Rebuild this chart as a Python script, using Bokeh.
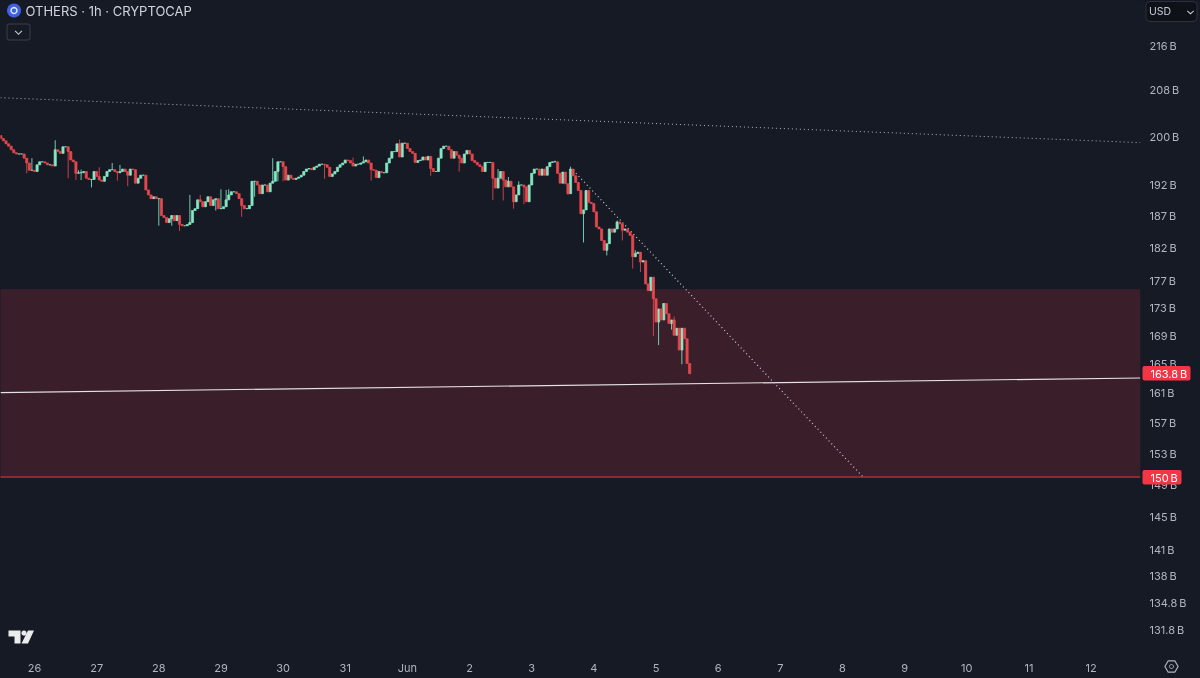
import math
from bokeh.plotting import figure
from bokeh.layouts import column
from bokeh.models import ColumnDataSource, FixedTicker, Range1d
from bokeh.core.properties import value
from bokeh.embed import file_html
from bokeh.resources import INLINE

# hourly closes in billions USD
closes_a = [199.7,199.3,198.8,198.4,197.8,197.3,197.1,197.1,197.1,196.4,195.6,194.4,194.4,194.2,195.3,195.8,195.8,195.6,195.3,195.3,195.1,
 197.8,197.5,197.2,198.3,198.3,197.5,196.1,195.8,193.9,194.0,194.0,194.2,193.1,192.9,192.9,194.2,193.4,192.8,192.6,193.4,194.2,
 194.5,194.5,194.2,194.0,194.2,194.6,194.2,193.6,194.6,194.5,192.3,193.1,193.6,193.6,191.2,190.4,189.8,190.1,189.8,189.8,
 187.1,186.8,186.0,186.6,187.1,186.3,187.1,185.7,185.5,185.5,185.7,186.0,187.9,188.2,189.6,189.3,188.5,189.3,190.1,188.7,
 189.6,189.8,188.2,188.2,188.5,189.6,190.4,190.9,190.9,190.6,189.8,188.7,188.2,188.2,188.7,192.6,192.6,192.0,190.6,192.0,
 192.0,190.9,192.3,192.6,194.2,195.8,195.8,195.0,192.8,193.6,193.1,192.9,193.1,193.3,193.6,194.2]
closes_b = [194.6,194.7,194.5,194.9,195.1,195.4,195.4,195.3,194.9,193.4,193.8,194.2,194.9,195.3,195.6,196.1,196.0,195.6,195.1,195.4,
 195.4,195.6,195.8,196.1,195.6,194.5,194.4,193.2,194.2,194.0,194.0,195.6,196.4,197.5,197.5,198.8,196.6,198.9,198.9,198.0,
 197.5,197.2,195.7,196.0,196.1,196.6,196.1,196.7,194.7,194.2,194.2,196.4,198.0,198.4,198.4,197.8,196.4,197.5,196.9,196.4,
 195.6,197.1,197.7,197.1,196.0,195.7,195.3,195.0,194.2,195.7,195.7,195.7,193.1,191.5,193.1,194.2,192.8,191.7,192.6,191.7,
 189.3,190.4,192.0,192.0,191.7,189.3,192.0,193.9,194.6,194.6,193.6,194.6,193.6,195.0,195.7,195.8,195.8,193.9,192.3]
closes_c = [194.1,192.2,190.6,194.6,193.5,192.4,191.1,187.4,188.0,191.1,189.2,189.0,187.7,185.3,185.0,183.2,181.7,182.7,185.0,184.5,
 185.0,186.1,185.8,184.8,185.0,184.5,184.0,180.7,181.2,181.4,179.9,180.1,176.6,175.6,177.6,174.4,171.0,172.9,171.3,173.7,
 172.2,170.8,171.3,169.1,170.1,167.0,170.1,168.6,165.1,163.7]
closes = closes_a + closes_b + closes_c
first_open = 200.2
last_hour = 253  # hours after 26 May 00:00

high_hours = [-1,8,17,18,25,30,33,41,60,64,72,74,75,92,123,127,141,179,183,187,201,207,225,232,247]
high_vals = [196.4,199.4,194.4,194.5,194.9,195.6,195.3,190.6,190.4,190.4,191.3,191.2,191.3,196.4,196.5,196.7,199.5,194.6,193.3,192.6,196.0,195.0,186.3,181.7,171.8]
low_hours = [-3,13,16,18,22,32,36,48,53,56,59,65,70,80,85,94,96,112,130,153,164,177,181,185,189,206,212,221,227,231,234,239,241,246,250]
low_vals = [193.9,193.1,192.8,192.8,191.6,192.7,191.8,185.5,185.5,184.7,187.9,188.7,187.9,186.9,190.1,192.6,192.6,193.0,192.7,193.5,194.2,189.6,189.5,188.2,188.9,190.4,
 182.9,180.9,183.2,178.9,178.4,169.0,167.7,169.9,165.0]

y_ticks = [216,208,200,192,187,182,177,173,169,165,161,157,153,149,145,141,138,134.8,131.8]
y_labels = ["216\u202fB","208\u202fB","200\u202fB","192\u202fB","187\u202fB","182\u202fB","177\u202fB","173\u202fB","169\u202fB","165\u202fB","161\u202fB","157\u202fB","153\u202fB","149\u202fB","145\u202fB","141\u202fB","138\u202fB","134.8\u202fB","131.8\u202fB"]
x_ticks = [0,24,48,72,96,120,144,168,192,216,240,264,288,312,336,360,384,408]
x_labels = ["26","27","28","29","30","31","Jun","2","3","4","5","6","7","8","9","10","11","12"]

zone_top, zone_bottom = 175.8, 150.0
support_start, support_end = 161.1, 163.1
upper_start, upper_end = 206.7, 199.0
fall_start_hour, fall_start, fall_end_hour, fall_end = 208, 194.4, 320, 150.0
left_hour, right_hour = -13.13, 427.1

BG = "#161a25"; UP = "#84e8c4"; DOWN = "#e5484d"; AXIS = "#b2b5be"; RED = "#f23645"; ZONE = "#3a1f2b"
W, H, FW, FH = 1200, 678, 1140, 655

n = len(closes)
hours = [last_hour - n + 1 + i for i in range(n)]
opens = [first_open] + closes[:-1]
highs = [max(o, c) for o, c in zip(opens, closes)]
lows = [min(o, c) for o, c in zip(opens, closes)]
idx = {h: i for i, h in enumerate(hours)}
for h, v in zip(high_hours, high_vals):
    if h in idx:
        highs[idx[h]] = max(highs[idx[h]], v)
for h, v in zip(low_hours, low_vals):
    if h in idx:
        lows[idx[h]] = min(lows[idx[h]], v)

def pick(cond):
    keep = [i for i in range(n) if cond(opens[i], closes[i])]
    return ColumnDataSource(dict(
        x=[hours[i] for i in keep], o=[opens[i] for i in keep], c=[closes[i] for i in keep],
        h=[highs[i] for i in keep], l=[lows[i] for i in keep]))

p = figure(width=W, height=H, frame_width=FW, frame_height=FH, output_backend="svg", toolbar_location=None,
           y_axis_type="log", y_axis_location="right",
           x_range=Range1d(left_hour, right_hour), y_range=Range1d(129.0, 224.4),
           background_fill_color=BG, border_fill_color=BG, outline_line_color=None,
           min_border_left=0, min_border_top=0, min_border_right=60, min_border_bottom=23)
p.styles = {"position": "fixed", "left": "0", "top": "0", "background-color": BG, "box-shadow": "0 0 0 8px " + BG}
p.grid.visible = False

for ax, ticks, labels in ((p.yaxis[0], y_ticks, y_labels), (p.xaxis[0], x_ticks, x_labels)):
    ax.ticker = FixedTicker(ticks=ticks)
    ax.major_label_overrides = dict(zip(ticks, labels))
    ax.axis_line_color = None
    ax.major_tick_line_color = None
    ax.minor_tick_line_color = None
    ax.major_tick_in = 0
    ax.major_tick_out = 0
    ax.minor_tick_in = 0
    ax.minor_tick_out = 0
    ax.major_label_text_color = AXIS
    ax.major_label_text_font = "Inter"
    ax.major_label_text_font_size = "11px"
p.yaxis[0].major_label_standoff = 9
p.xaxis[0].major_label_standoff = 5

p.quad(left=[left_hour - 5], right=[right_hour + 5], top=[zone_top], bottom=[zone_bottom], fill_color=ZONE, line_color=None)
p.line([left_hour - 5, right_hour + 5], [zone_bottom, zone_bottom], line_color=RED, line_width=1)
p.line([left_hour, right_hour], [support_start, support_end], line_color="#e4e2e4", line_width=1.1)
p.line([left_hour, right_hour], [upper_start, upper_end], line_color="#b4b8c2", line_width=1, line_dash="1 3")
p.line([fall_start_hour, fall_end_hour], [fall_start, fall_end], line_color="#c8ccd4", line_width=1.2, line_dash="1 3")

for cond, col in ((lambda o, c: c >= o, UP), (lambda o, c: c < o, DOWN)):
    src = pick(cond)
    p.segment("x", "l", "x", "h", source=src, line_color=col, line_width=1, line_alpha=0.85)
    p.vbar(x="x", width=0.85, bottom="o", top="c", source=src, fill_color=col, line_color=col, line_width=0.7)

# transparent sheet over the whole page for the interface furniture, in page pixels
q = figure(width=W, height=H, frame_width=W, frame_height=H, output_backend="svg", toolbar_location=None,
           x_axis_type=None, y_axis_type=None,
           x_range=Range1d(0, W), y_range=Range1d(H, 0),
           background_fill_alpha=0, border_fill_alpha=0, outline_line_color=None,
           min_border_left=0, min_border_top=0, min_border_right=0, min_border_bottom=0)
q.styles = {"position": "fixed", "left": "0", "top": "0"}
q.grid.visible = False

def box(l, r, t, b, fill, line=None, radius=0):
    q.quad(left=[l], right=[r], top=[t], bottom=[b], fill_color=fill, line_color=line, line_width=1, border_radius=radius)

def poly(pts, fill=None, line=None, w=1):
    q.patch([a for a, _ in pts], [b for _, b in pts], fill_color=fill, fill_alpha=1 if fill else 0,
            line_color=line, line_width=w)

def label(px, py, text, color, size):
    q.text([px], [py], text=[text], text_color=color, text_font=value("Inter"), text_font_size=size, text_baseline="middle")

def ring(cx, cy, r, count):
    return [(cx + r * math.cos(2 * math.pi * i / count), cy + r * math.sin(2 * math.pi * i / count)) for i in range(count)]

# strips over the frame's hairline
box(1140, 1142, 0, H, BG)
box(0, W, 0, 1, BG); box(0, W, 654.5, 656, BG)

# header
poly(ring(13.5, 10, 7, 24), "#3e62e6")
poly(ring(13.5, 10, 3, 12), None, "#dfe6ff", 1.4)
label(25, 10.5, "OTHERS · 1h · CRYPTOCAP", "#d1d4dc", "13px")
box(6.5, 29.5, 23.5, 39.5, BG, "#3a3e4a", 2)
poly([(15, 30), (18, 33), (21, 30), (21.8, 30.8), (18, 34.6), (14.2, 30.8)], "#c8cbd3")

# currency selector
box(1145.5, 1196.5, 1, 21, "#0e1118", "#2e323d", 4)
label(1148.5, 11, "USD", "#c8cbd3", "10.5px")
poly([(1187, 10), (1190, 12.5), (1193, 10), (1193.6, 10.8), (1190, 14), (1186.4, 10.8)], "#c8cbd3")

# price tags
box(1142, 1190, 365.5, 380, RED, None, 2)
label(1150, 373, "163.8\u202fB", "#ffffff", "11px")
box(1142, 1181, 469.5, 484, RED, None, 2)
label(1150, 477, "150\u202fB", "#ffffff", "11px")

# attribution mark and settings icon
poly([(8, 630), (20, 630), (20, 643), (14, 643), (14, 636), (8, 636)], "#ececec")
poly(ring(23.5, 632.6, 2.6, 12), "#ececec")
poly([(27.5, 630), (33.5, 630), (27.5, 643), (21, 643)], "#ececec")
poly(ring(1171, 666, 6.6, 6), None, AXIS, 1.2)
poly(ring(1171, 666, 2, 12), None, AXIS, 1)

open("out.html", "w").write(file_html(column(p, q), INLINE))
